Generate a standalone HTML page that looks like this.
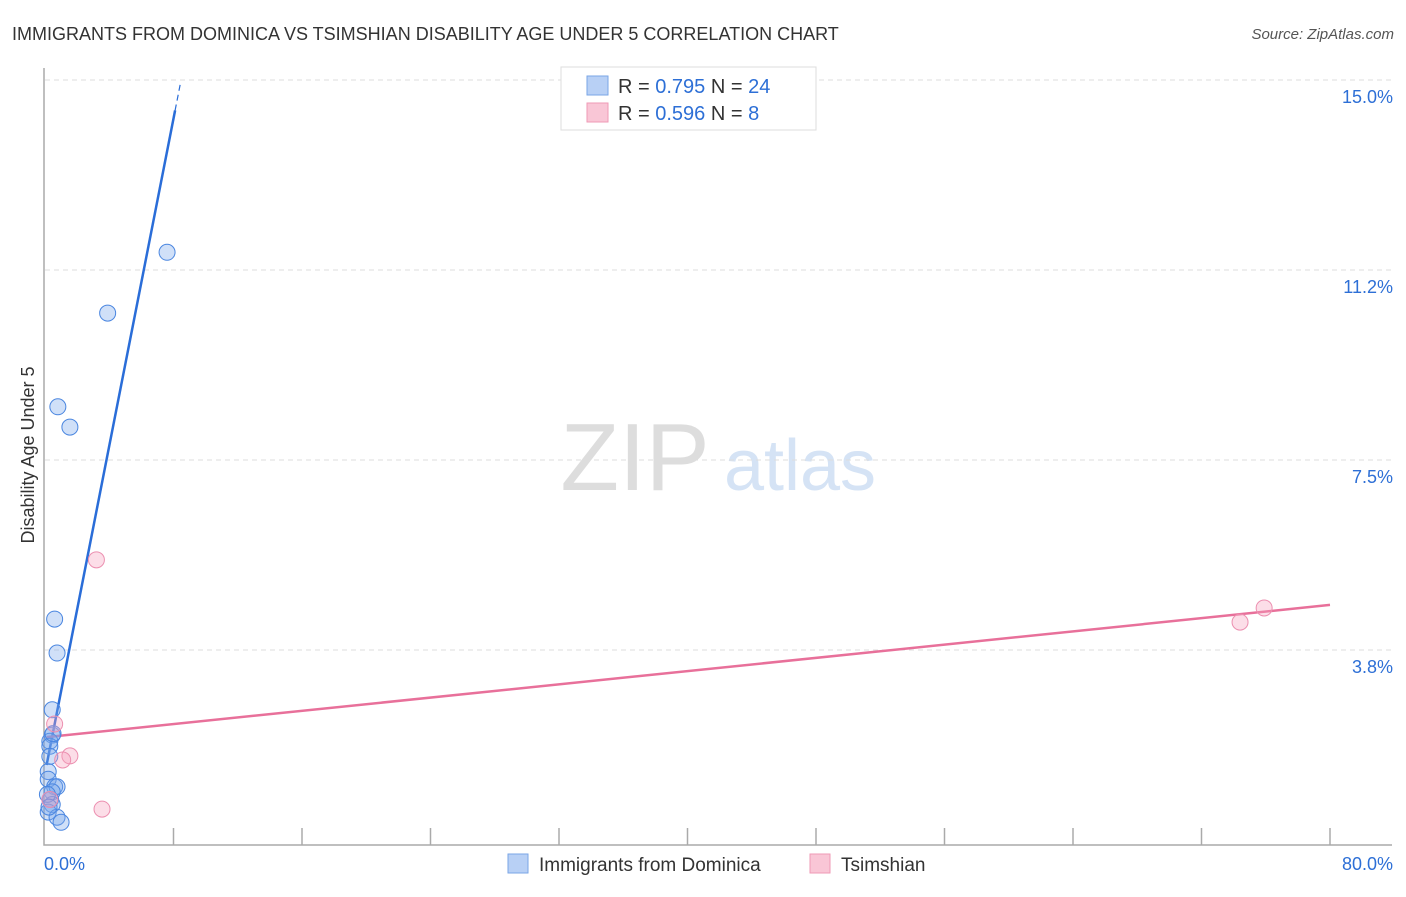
<!DOCTYPE html>
<html><head><meta charset="utf-8"><style>
body{margin:0;background:#fff;font-family:"Liberation Sans",sans-serif;}
svg text{font-family:"Liberation Sans",sans-serif;}
</style></head><body>
<svg id="chart" width="1406" height="892" viewBox="0 0 1406 892" xmlns="http://www.w3.org/2000/svg">
<text x="12" y="40" font-size="18" fill="#333">IMMIGRANTS FROM DOMINICA VS TSIMSHIAN DISABILITY AGE UNDER 5 CORRELATION CHART</text>
<text x="1394" y="39" font-size="15" fill="#555" font-style="italic" text-anchor="end">Source: ZipAtlas.com</text>
<g>
<text x="635" y="490" font-size="96" fill="#ddd" font-family="Liberation Serif" text-anchor="middle">ZIP</text>
<text x="800" y="490" font-size="72" fill="#d5e3f5" text-anchor="middle">atlas</text>
</g>
<g id="grid"></g>
<g id="axes"></g>
<g id="lines"></g>
<g id="points"></g>
<text transform="translate(34,455) rotate(-90)" font-size="18" fill="#333" text-anchor="middle">Disability Age Under 5</text>
<g>
<rect x="561" y="67" width="255" height="63" fill="#fff" stroke="#ddd"/>
<rect x="587" y="76" width="21" height="19" fill="#b8d0f5" stroke="#7aa6e6"/>
<rect x="587" y="103" width="21" height="19" fill="#f9c6d6" stroke="#ef9ab6"/>
<text x="618" y="93" font-size="20" fill="#333">R = <tspan fill="#2d6fd6">0.795</tspan>   N = <tspan fill="#2d6fd6">24</tspan></text>
<text x="618" y="120" font-size="20" fill="#333">R = <tspan fill="#2d6fd6">0.596</tspan>   N = <tspan fill="#2d6fd6">  8</tspan></text>
</g>
<g>
<rect x="508" y="854" width="20" height="19" fill="#b8d0f5" stroke="#7aa6e6"/>
<text x="539" y="871" font-size="19" fill="#333">Immigrants from Dominica</text>
<rect x="810" y="854" width="20" height="19" fill="#f9c6d6" stroke="#ef9ab6"/>
<text x="841" y="871" font-size="19" fill="#333">Tsimshian</text>
</g>
</svg>
<script>
const yTicks=[15.0,11.25,7.5,3.75];
const yTickLabels=["15.0%","11.2%","7.5%","3.8%"];
const xTickLabels=["0.0%","80.0%"];
const blueX=[7.6,3.9,0.8,1.55,0.6,0.75,0.45,0.45,0.3,0.3,0.2,0.2,0.6,0.75,0.45,0.35,0.45,0.2,0.75,1.0,0.3,0.15,0.5,0.25];
const blueY=[11.6,10.4,8.55,8.15,4.36,3.69,2.57,2.07,1.95,1.85,1.35,1.2,1.05,1.05,0.95,0.8,0.7,0.55,0.45,0.35,1.65,0.9,2.1,0.65];
const pinkX=[3.2,75.9,74.4,0.6,1.55,1.1,3.55,0.3];
const pinkY=[5.53,4.58,4.3,2.29,1.66,1.58,0.61,0.8];
const blueLine=[0.1,1.48,8.1,14.4];
const pinkLine=[0.1,2.03,80,4.64];
const NS="http://www.w3.org/2000/svg";
const sx=v=>45+v/80*1285, sy=v=>840-v/15*760;
function mk(p,t,a){const e=document.createElementNS(NS,t);for(const k in a)e.setAttribute(k,a[k]);document.getElementById(p).appendChild(e);return e;}
yTicks.forEach((t,i)=>{
 const g=mk('grid','line',{x1:45,x2:1392,y1:sy(t),y2:sy(t),stroke:'#ddd','stroke-dasharray':'5,4'});
 
 
 const l=mk('grid','text',{x:1393,y:sy(t)+23,'font-size':18,fill:'#2d6fd6','text-anchor':'end'});
 l.textContent=yTickLabels[i];
 
 
});
const ax=mk('axes','path',{d:'M44,68V845H1392',fill:'none',stroke:'#aaa','stroke-width':1.5});


for(let i=1;i<=10;i++){const t=mk('axes','line',{x1:sx(i*8),x2:sx(i*8),y1:828,y2:845,stroke:'#aaa','stroke-width':1.5});
 
 }
const xl0=mk('axes','text',{x:44,y:870,'font-size':18,fill:'#2d6fd6'});xl0.textContent=xTickLabels[0];


const xl1=mk('axes','text',{x:1393,y:870,'font-size':18,fill:'#2d6fd6','text-anchor':'end'});xl1.textContent=xTickLabels[1];


blueX.forEach((x,i)=>{const c=mk('points','circle',{cx:sx(x),cy:sy(blueY[i]),r:8,fill:'rgba(120,165,235,0.35)',stroke:'#4a86e0','stroke-width':1});
 
 });
pinkX.forEach((x,i)=>{const c=mk('points','circle',{cx:sx(x),cy:sy(pinkY[i]),r:8,fill:'rgba(245,160,190,0.35)',stroke:'#ec8fb0','stroke-width':1});
 
 });
const bl=mk('lines','line',{x1:sx(blueLine[0]),y1:sy(blueLine[1]),x2:sx(blueLine[2]),y2:sy(blueLine[3]),stroke:'#2a6dd8','stroke-width':2.5});


const slope=(blueLine[3]-blueLine[1])/(blueLine[2]-blueLine[0]);
const bx=blueLine[2]+0.35;
const bd=mk('lines','line',{x1:sx(blueLine[2]),y1:sy(blueLine[3]),x2:sx(bx),y2:sy(blueLine[3]+slope*0.35),stroke:'#2a6dd8','stroke-width':1.2,'stroke-dasharray':'6,4'});


const pl=mk('lines','line',{x1:sx(pinkLine[0]),y1:sy(pinkLine[1]),x2:sx(pinkLine[2]),y2:sy(pinkLine[3]),stroke:'#e8709a','stroke-width':2.5});


</script>
</body></html>
